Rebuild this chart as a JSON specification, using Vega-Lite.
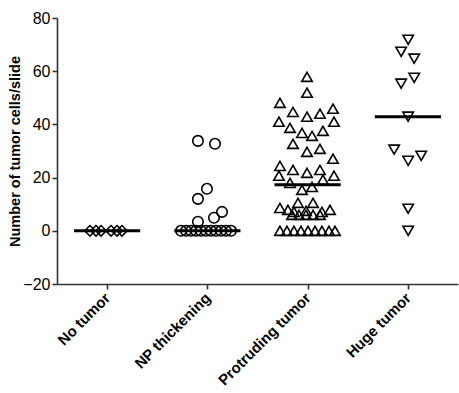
{
  "$schema": "https://vega.github.io/schema/vega-lite/v6.json",
  "width": 401,
  "height": 266,
  "autosize": {"type": "none"},
  "padding": {"left": 57, "top": 18, "right": 1, "bottom": 109},
  "background": "white",
  "config": {
    "view": {"stroke": null},
    "font": "Liberation Sans",
    "axis": {"grid": false}
  },
  "datasets": {
    "pts": [
      {"g": "No tumor", "x": 0.829, "y": 0},
      {"g": "No tumor", "x": 0.889, "y": 0},
      {"g": "No tumor", "x": 0.939, "y": 0},
      {"g": "No tumor", "x": 1.039, "y": 0},
      {"g": "No tumor", "x": 1.099, "y": 0},
      {"g": "No tumor", "x": 1.148, "y": 0},
      {"g": "NP thickening", "x": 1.737, "y": 0},
      {"g": "NP thickening", "x": 1.787, "y": 0},
      {"g": "NP thickening", "x": 1.837, "y": 0},
      {"g": "NP thickening", "x": 1.887, "y": 0},
      {"g": "NP thickening", "x": 1.936, "y": 0},
      {"g": "NP thickening", "x": 1.986, "y": 0},
      {"g": "NP thickening", "x": 2.036, "y": 0},
      {"g": "NP thickening", "x": 2.086, "y": 0},
      {"g": "NP thickening", "x": 2.136, "y": 0},
      {"g": "NP thickening", "x": 2.186, "y": 0},
      {"g": "NP thickening", "x": 2.236, "y": 0},
      {"g": "NP thickening", "x": 1.906, "y": 33.8},
      {"g": "NP thickening", "x": 2.076, "y": 32.7},
      {"g": "NP thickening", "x": 1.996, "y": 15.8},
      {"g": "NP thickening", "x": 1.906, "y": 12.0},
      {"g": "NP thickening", "x": 2.146, "y": 7.1},
      {"g": "NP thickening", "x": 2.066, "y": 4.9},
      {"g": "NP thickening", "x": 1.906, "y": 3.4},
      {"g": "Protruding tumor", "x": 2.994, "y": 57.9},
      {"g": "Protruding tumor", "x": 2.994, "y": 51.9},
      {"g": "Protruding tumor", "x": 2.724, "y": 48.1},
      {"g": "Protruding tumor", "x": 2.854, "y": 44.7},
      {"g": "Protruding tumor", "x": 2.994, "y": 42.9},
      {"g": "Protruding tumor", "x": 3.123, "y": 44.0},
      {"g": "Protruding tumor", "x": 3.253, "y": 45.9},
      {"g": "Protruding tumor", "x": 2.714, "y": 41.0},
      {"g": "Protruding tumor", "x": 2.824, "y": 38.7},
      {"g": "Protruding tumor", "x": 2.944, "y": 36.8},
      {"g": "Protruding tumor", "x": 3.044, "y": 35.7},
      {"g": "Protruding tumor", "x": 3.153, "y": 37.6},
      {"g": "Protruding tumor", "x": 3.263, "y": 41.0},
      {"g": "Protruding tumor", "x": 2.854, "y": 32.7},
      {"g": "Protruding tumor", "x": 2.994, "y": 29.7},
      {"g": "Protruding tumor", "x": 3.123, "y": 30.8},
      {"g": "Protruding tumor", "x": 3.253, "y": 27.1},
      {"g": "Protruding tumor", "x": 2.724, "y": 24.4},
      {"g": "Protruding tumor", "x": 2.854, "y": 22.9},
      {"g": "Protruding tumor", "x": 2.994, "y": 21.8},
      {"g": "Protruding tumor", "x": 3.123, "y": 22.9},
      {"g": "Protruding tumor", "x": 2.714, "y": 20.7},
      {"g": "Protruding tumor", "x": 3.263, "y": 20.7},
      {"g": "Protruding tumor", "x": 3.153, "y": 19.2},
      {"g": "Protruding tumor", "x": 2.824, "y": 18.0},
      {"g": "Protruding tumor", "x": 3.044, "y": 16.5},
      {"g": "Protruding tumor", "x": 2.944, "y": 15.4},
      {"g": "Protruding tumor", "x": 2.724, "y": 8.6},
      {"g": "Protruding tumor", "x": 2.904, "y": 10.5},
      {"g": "Protruding tumor", "x": 3.054, "y": 10.5},
      {"g": "Protruding tumor", "x": 2.804, "y": 7.9},
      {"g": "Protruding tumor", "x": 3.223, "y": 7.9},
      {"g": "Protruding tumor", "x": 3.143, "y": 7.1},
      {"g": "Protruding tumor", "x": 2.864, "y": 7.1},
      {"g": "Protruding tumor", "x": 2.984, "y": 7.5},
      {"g": "Protruding tumor", "x": 2.844, "y": 6.0},
      {"g": "Protruding tumor", "x": 2.914, "y": 6.0},
      {"g": "Protruding tumor", "x": 2.984, "y": 6.0},
      {"g": "Protruding tumor", "x": 3.054, "y": 6.0},
      {"g": "Protruding tumor", "x": 3.123, "y": 6.0},
      {"g": "Protruding tumor", "x": 2.724, "y": 0},
      {"g": "Protruding tumor", "x": 2.794, "y": 0},
      {"g": "Protruding tumor", "x": 2.864, "y": 0},
      {"g": "Protruding tumor", "x": 2.934, "y": 0},
      {"g": "Protruding tumor", "x": 3.004, "y": 0},
      {"g": "Protruding tumor", "x": 3.074, "y": 0},
      {"g": "Protruding tumor", "x": 3.143, "y": 0},
      {"g": "Protruding tumor", "x": 3.213, "y": 0},
      {"g": "Protruding tumor", "x": 3.273, "y": 0},
      {"g": "Huge tumor", "x": 4.003, "y": 71.8},
      {"g": "Huge tumor", "x": 3.933, "y": 67.3},
      {"g": "Huge tumor", "x": 4.063, "y": 64.7},
      {"g": "Huge tumor", "x": 4.063, "y": 57.5},
      {"g": "Huge tumor", "x": 3.933, "y": 55.3},
      {"g": "Huge tumor", "x": 4.003, "y": 42.9},
      {"g": "Huge tumor", "x": 3.863, "y": 30.5},
      {"g": "Huge tumor", "x": 4.003, "y": 26.3},
      {"g": "Huge tumor", "x": 4.133, "y": 28.2},
      {"g": "Huge tumor", "x": 4.003, "y": 8.3},
      {"g": "Huge tumor", "x": 4.003, "y": 0}
    ],
    "lines": [
      {"g": "No tumor", "lo": 0.67, "hi": 1.33, "v": 0},
      {"g": "NP thickening", "lo": 1.67, "hi": 2.33, "v": 0},
      {"g": "Protruding tumor", "lo": 2.67, "hi": 3.33, "v": 17.3},
      {"g": "Huge tumor", "lo": 3.67, "hi": 4.33, "v": 42.9}
    ]
  },
  "layer": [
    {
      "mark": {"type": "rule", "color": "#555", "strokeDash": [1, 3], "strokeWidth": 1},
      "encoding": {"y": {"datum": 0, "type": "quantitative"}}
    },
    {
      "data": {"name": "pts"},
      "mark": {"type": "point", "filled": false, "color": "black", "strokeWidth": 1.6, "size": 110, "opacity": 1},
      "encoding": {
        "x": {
          "field": "x", "type": "quantitative",
          "scale": {"domain": [0.5, 4.5], "nice": false, "zero": false},
          "axis": {
            "values": [1, 2, 3, 4],
            "labelExpr": "['', 'No tumor', 'NP thickening', 'Protruding tumor', 'Huge tumor'][datum.value]",
            "title": null,
            "labelAngle": -45,
            "labelAlign": "right",
            "labelBaseline": "middle",
            "labelFontWeight": "bold",
            "labelFontSize": 15,
            "labelColor": "black",
            "labelPadding": 6,
            "domainColor": "#333",
            "domainWidth": 1.6,
            "tickColor": "#333",
            "tickWidth": 1.6,
            "tickSize": 5
          }
        },
        "y": {
          "field": "y", "type": "quantitative",
          "scale": {"domain": [-20, 80], "nice": false},
          "axis": {
            "values": [-20, 0, 20, 40, 60, 80],
            "title": "Number of tumor cells/slide",
            "titleFontWeight": "bold",
            "titleFontSize": 14.5,
            "titleColor": "black",
            "titlePadding": 0,
            "labelFontSize": 16,
            "labelColor": "black",
            "labelPadding": 2,
            "domainColor": "#333",
            "domainWidth": 1.6,
            "tickColor": "#333",
            "tickWidth": 1.6,
            "tickSize": 5
          }
        },
        "shape": {
          "field": "g", "type": "nominal",
          "scale": {
            "domain": ["No tumor", "NP thickening", "Protruding tumor", "Huge tumor"],
            "range": ["diamond", "circle", "triangle-up", "triangle-down"]
          },
          "legend": null
        }
      }
    },
    {
      "data": {"name": "lines"},
      "mark": {"type": "rule", "color": "black", "strokeWidth": 3},
      "encoding": {
        "x": {"field": "lo", "type": "quantitative"},
        "x2": {"field": "hi"},
        "y": {"field": "v", "type": "quantitative"}
      }
    }
  ]
}
